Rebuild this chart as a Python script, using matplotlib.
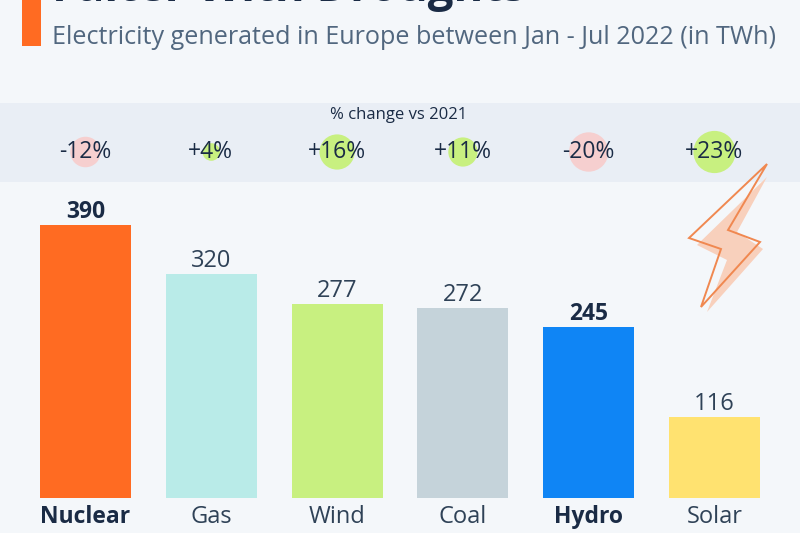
import numpy as np
import matplotlib.pyplot as plt
from matplotlib.patches import Circle, Polygon, Rectangle

plt.rcParams['font.family'] = ['Open Sans', 'DejaVu Sans']

categories = ['Nuclear', 'Gas', 'Wind', 'Coal', 'Hydro', 'Solar']
values = [390, 320, 277, 272, 245, 116]
changes = [-12, 4, 16, 11, -20, 23]
change_labels = ['-12%', '+4%', '+16%', '+11%', '-20%', '+23%']
bar_colors = ['#ff6b22', '#b9ebe8', '#c8f080', '#c5d3da', '#0f85f5', '#ffe270']
bold = [True, False, False, False, True, False]

bg = '#f4f7fa'
navy = '#1a2b45'
slate = '#51677f'

fig = plt.figure(figsize=(8, 5.33), dpi=100, facecolor=bg)

# overlay in pixel coordinates for the decoration
deco = fig.add_axes([0, 0, 1, 1])
deco.set_xlim(0, 800)
deco.set_ylim(533, 0)
deco.axis('off')

deco.add_patch(Rectangle((22, -5), 19, 51, color='#ff6b22', lw=0))
deco.text(52, 1, 'Falter With Droughts', fontsize=32.8, fontweight='bold', color=navy, va='baseline')
deco.text(52, 37, 'Electricity generated in Europe between Jan - Jul 2022 (in TWh)', fontsize=18.1,
          color=slate, va='center')

deco.add_patch(Rectangle((0, 103), 800, 79, color='#e9eef5', lw=0))
deco.text(399, 115, '% change vs 2021', fontsize=12, color=navy, ha='center', va='center')

# chart axes, 0 at y=498 and 0.7 px per TWh
ax = fig.add_axes([0, (533 - 498) / 533, 1, 350 / 533])
ax.patch.set_alpha(0)
ax.set_xlim(-0.68, 5.679)
ax.set_ylim(0, 500)
x = np.arange(len(categories))
ax.bar(x, values, width=0.723, color=bar_colors)

for i in x:
    w = 'bold' if bold[i] else 'normal'
    ax.text(i, values[i] + 1, str(values[i]), ha='center', va='bottom', fontsize=16.5 if bold[i] else 17,
            fontweight=w, color=navy if bold[i] else '#2f4257')
    ax.text(i, -27, categories[i], ha='center', va='center', fontsize=16.5 if bold[i] else 17,
            fontweight=w, color=navy if bold[i] else '#2f4257')

    px = 85.5 + 125.8 * i
    r = 4.4 * np.sqrt(abs(changes[i]))
    col = '#f6cfcf' if changes[i] < 0 else '#c8f080'
    deco.add_patch(Circle((px, 152), r, color=col, lw=0))
    deco.text(px - 0.5, 152, change_labels[i], ha='center', va='center', fontsize=16.5, color=navy)

# lightning bolt
fill_pts = [(767, 177), (737, 232), (763, 249), (707, 312), (727, 260), (697, 245)]
line_pts = [(767, 164), (728, 230), (760, 242), (701, 307), (721, 249), (689, 238)]
deco.add_patch(Polygon(fill_pts, closed=True, facecolor='#f8d0bc', lw=0))
deco.add_patch(Polygon(line_pts, closed=True, fill=False, edgecolor='#f08850', lw=1.4))

ax.axis('off')
fig.savefig('out.png', dpi=100, facecolor=bg)
